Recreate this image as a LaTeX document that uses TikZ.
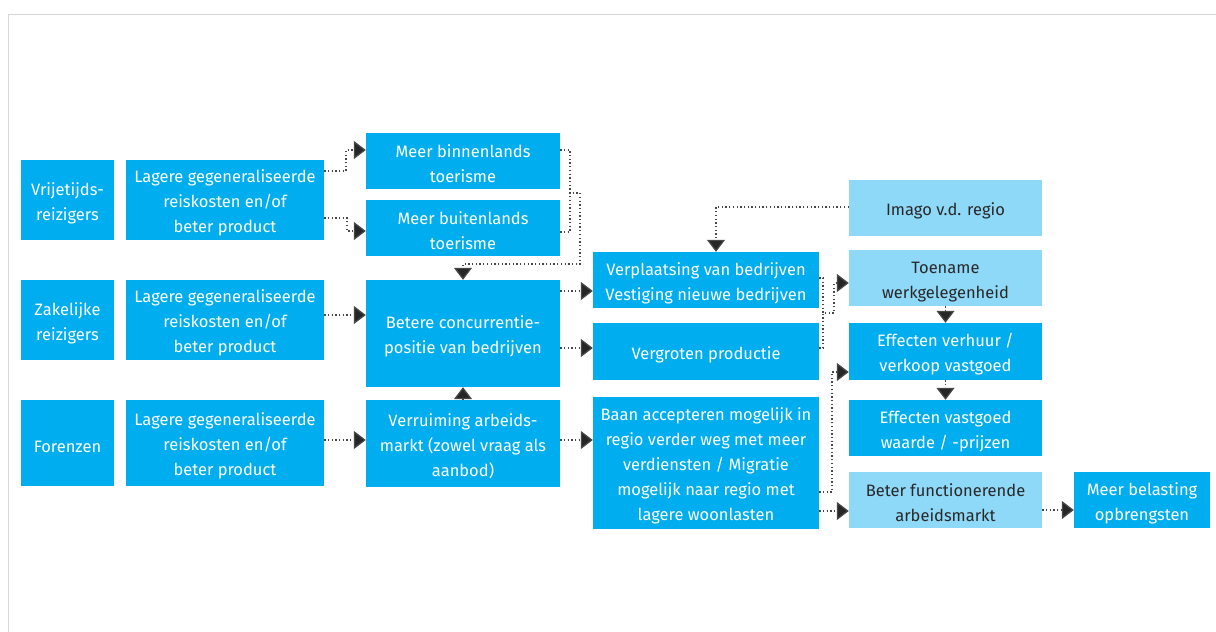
\documentclass[tikz,border=0pt]{standalone}
\usepackage{fontspec}
\setmainfont{Fira Sans}
\usetikzlibrary{arrows.meta}
\definecolor{rblue}{RGB}{0,174,239}
\definecolor{lblue}{RGB}{142,216,248}
\definecolor{dtext}{RGB}{40,40,40}
\definecolor{framegray}{RGB}{215,215,215}
\definecolor{conngray}{RGB}{70,70,70}
\newcommand{\tup}{\rule{0pt}{19pt}}
\tikzset{
  bx/.style={fill=rblue, text=white, align=center, inner sep=0pt, font=\fontsize{16.5}{25}\selectfont},
  lbx/.style={bx, fill=lblue, text=dtext},
  conn/.style={draw=conngray, line width=1.3pt, dash pattern=on 1.3pt off 2.4pt, -{Triangle[length=12pt,width=18pt,fill=black!85]}},
  connl/.style={draw=conngray, line width=1.3pt, dash pattern=on 1.3pt off 2.4pt}
}
\begin{document}
\begin{tikzpicture}[x=1pt,y=-1pt]
\useasboundingbox (0,0) rectangle (1216,632);
\draw[framegray, line width=1.5pt] (1216,14.5) -- (8.5,14.5) -- (8.5,632);
% column 1
\node[bx, minimum width=93, minimum height=80] (vr) at (67.5,200) {\tup Vrijetijds-\\reizigers};
\node[bx, minimum width=93, minimum height=80] (za) at (67.5,320) {\tup Zakelijke\\reizigers};
\node[bx, minimum width=93, minimum height=86] (fo) at (67.5,443) {\tup Forenzen};
% column 2
\node[bx, minimum width=198, minimum height=80] (l1) at (225,200) {\tup Lagere gegeneraliseerde\\reiskosten en/of\\beter product};
\node[bx, minimum width=198, minimum height=80] (l2) at (225,320) {\tup Lagere gegeneraliseerde\\reiskosten en/of\\beter product};
\node[bx, minimum width=198, minimum height=86] (l3) at (225,443) {\tup Lagere gegeneraliseerde\\reiskosten en/of\\beter product};
% column 3
\node[bx, minimum width=194, minimum height=56] (mb) at (463,161) {\tup Meer binnenlands\\toerisme};
\node[bx, minimum width=194, minimum height=56] (mbu) at (463,228) {\tup Meer buitenlands\\toerisme};
\node[bx, minimum width=194, minimum height=107] (bc) at (463,333.5) {\tup Betere concurrentie-\\positie van bedrijven};
\node[bx, minimum width=194, minimum height=87] (ve) at (463,443.5) {\tup Verruiming arbeids-\\markt (zowel vraag als\\aanbod)};
% column 4
\node[bx, minimum width=226, minimum height=56] (vp) at (706,280) {\tup Verplaatsing van bedrijven\\Vestiging nieuwe bedrijven};
\node[bx, minimum width=226, minimum height=57] (vg) at (706,351.5) {\tup Vergroten productie};
\node[bx, minimum width=226, minimum height=132] (ba) at (706,463) {\tup Baan accepteren mogelijk in\\regio verder weg met meer\\verdiensten / Migratie\\mogelijk naar regio met\\lagere woonlasten};
% column 5
\node[lbx, minimum width=193, minimum height=56] (im) at (945.5,208) {\tup Imago v.d. regio};
\node[lbx, minimum width=193, minimum height=56] (to) at (945.5,278) {\tup Toename\\werkgelegenheid};
\node[bx, minimum width=193, minimum height=57] (ev) at (945.5,351.5) {\tup Effecten verhuur /\\verkoop vastgoed};
\node[bx, minimum width=193, minimum height=56] (ew) at (945.5,428) {\tup Effecten vastgoed\\waarde / -prijzen};
\node[lbx, minimum width=193, minimum height=56] (bf) at (945.5,500) {\tup Beter functionerende\\arbeidsmarkt};
% column 6
\node[bx, minimum width=136, minimum height=56] (mbe) at (1142,500) {\tup Meer belasting\\opbrengsten};
% connectors
\draw[conn] (l1.east |- 0,171) -| (346,150) -- (mb.west |- 0,150);
\draw[conn] (l1.east |- 0,218) -| (347,231) -- (mbu.west |- 0,231);
\draw[connl] (mbu.east |- 0,232) -| (570,193);
\draw[conn] (mb.east |- 0,150) -| (570,193) -| (580,264) -| (bc.north);
\draw[conn] (l2.east |- 0,315) -- (bc.west |- 0,315);
\draw[conn] (l3.east |- 0,440) -- (ve.west |- 0,440);
\draw[conn] (ve.north) -- (bc.south);
\draw[conn] (bc.east |- 0,291) -- (vp.west |- 0,291);
\draw[conn] (bc.east |- 0,348) -- (vg.west |- 0,348);
\draw[conn] (ve.east |- 0,440) -- (ba.west |- 0,440);
\draw[conn] (im.west |- 0,207) -| (vp.north -| 716,0);
\draw[connl] (vg.east |- 0,348) -| (823,313);
\draw[conn] (vp.east |- 0,278) -| (823,313) -| (834,283) -- (to.west |- 0,283);
\draw[conn] (ba.east |- 0,492) -| (832,372) -- (ev.west |- 0,372);
\draw[conn] (ba.east |- 0,511) -- (bf.west |- 0,511);
\draw[conn] (to.south) -- (ev.north);
\draw[conn] (ev.south) -- (ew.north);
\draw[conn] (bf.east |- 0,510) -- (mbe.west |- 0,510);
\end{tikzpicture}
\end{document}
